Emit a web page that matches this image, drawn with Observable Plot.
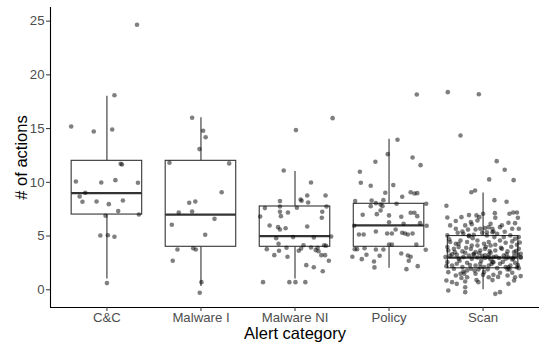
<!DOCTYPE html>
<html>
<head>
<meta charset="utf-8">
<script src="https://cdn.jsdelivr.net/npm/d3@7"></script>
<script src="https://cdn.jsdelivr.net/npm/@observablehq/plot@0.6"></script>
<style>
  html, body { margin: 0; padding: 0; background: white; }
  #chart { width: 539px; height: 343px; }
</style>
</head>
<body>
<div id="chart"></div>
<script>
// Categories and box statistics
const categories = ["C&C", "Malware I", "Malware NI", "Policy", "Scan"];
const boxQ1       = [7, 4, 4, 4, 2];
const boxMedian   = [9, 7, 5, 6, 3];
const boxQ3       = [12, 12, 7.75, 8, 5];
const whiskerLow  = [1, 0.3, 1, 2, 0];
const whiskerHigh = [18, 16, 11, 14, 9];
const yTicks = [0, 5, 10, 15, 20, 25];

// Jittered observations: [horizontal jitter (category units), # of actions]
const ccPoints = [
  [0.32,24.66],[0.08,18.11],[-0.38,15.2],[-0.14,14.73],[0.056,14.92],[0.146,11.73],[0.16,11.66],
  [-0.33,10.08],[-0.06,9.99],[0.09,10.2],[0.33,9.96],[-0.23,9.03],[-0.29,8.68],[-0.26,8.19],
  [-0.11,8.22],[0.02,7.97],[0.17,8.31],[0.12,7.32],[-0.015,6.89],[0.34,7.01],[-0.07,5.05],
  [0.01,5.08],[0.08,4.93],[0,0.62]
];
const malwareIPoints = [
  [-0.094,16.01],[0.023,14.8],[0.05,14.2],[-0.016,13.09],[-0.335,11.82],[0.30,11.76],[0.22,9.08],
  [-0.125,8.1],[-0.06,8.22],[-0.236,7.19],[-0.094,7.29],[0.144,6.6],[-0.31,6.05],[0.045,5.12],
  [-0.25,3.75],[-0.083,3.87],[-0.055,3.75],[-0.3,2.7],[0.005,0.71],[-0.013,-0.28]
];
const malwareNIPoints = [
  [0.40,15.97],[0.01,14.86],[-0.12,11.1],[0.17,9.99],[0.13,8.78],[0.325,8.78],[-0.16,8.25],
  [0.06,8.4],[0.07,8.28],[0.14,8.12],[-0.32,7.6],[-0.16,7.75],[0.02,7.63],[0.335,7.75],
  [-0.16,7.26],[-0.075,7.19],[0.29,7.26],[-0.37,6.82],[-0.15,6.85],[0.285,6.7],[-0.27,5.98],
  [-0.18,5.83],[-0.16,5.61],[-0.10,5.73],[0.13,5.89],[-0.2,4.8],[-0.02,4.9],[0.2,4.87],
  [0.385,4.96],[-0.175,4.28],[-0.3,3.78],[-0.09,3.91],[0.09,4.15],[0.065,3.84],[0.17,3.94],
  [0.24,3.91],[0.31,4.15],[0.33,4.1],[-0.17,3.63],[0.04,3.63],[0.22,3.69],[-0.22,3.22],
  [0.25,3.59],[0.28,3.22],[0.32,3.22],[-0.08,3.07],[0.36,2.7],[0.12,2.29],[0.2,2.1],
  [0.295,1.73],[-0.34,0.71],[-0.06,0.71],[0.005,0.71],[0.11,0.71]
];
const policyPoints = [
  [0.295,18.18],[0.09,13.96],[-0.014,12.62],[0.25,12.31],[-0.145,11.91],[0.335,11.6],[-0.31,10.98],
  [-0.3,9.96],[-0.195,9.68],[0.045,9.74],[-0.04,9.03],[0.23,9.08],[0.27,8.96],[0.30,8.99],
  [0.14,8.66],[-0.36,8.25],[-0.185,8.31],[-0.06,8.34],[0.395,8.0],[-0.195,7.78],[-0.14,8.06],
  [-0.09,7.94],[-0.07,7.78],[0.08,8.0],[-0.09,7.38],[-0.28,6.98],[-0.13,7.04],[0.0,6.92],
  [0.13,6.79],[0.23,7.17],[0.27,7.17],[0.30,6.85],[0.0,6.29],[0.155,6.14],[0.33,6.2],
  [0.40,5.96],[-0.37,5.96],[-0.14,5.43],[0.07,5.61],[-0.32,5.15],[-0.27,5.15],[-0.02,5.24],
  [0.03,5.24],[0.14,5.3],[0.17,5.24],[0.2,5.15],[0.25,5.24],[0.0,4.22],[0.03,4.22],
  [0.29,4.22],[-0.365,3.78],[-0.34,3.78],[-0.26,3.87],[-0.14,3.75],[-0.06,3.75],[0.39,3.72],
  [-0.39,3.07],[-0.29,2.85],[-0.24,3.26],[-0.1,3.16],[0.13,3.38],[0.2,3.19],[0.23,3.07],
  [-0.16,2.63],[0.21,2.7],[-0.155,2.08],[0.305,2.2],[0.185,1.92]
];
const scanPoints = [
  [-0.375,18.39],[-0.045,18.2],[-0.24,14.36],[0.145,11.97],[0.23,11.17],[0.065,10.27],[0.325,10.2],
  [-0.125,9.08],[-0.085,9.24],[0.12,8.34],[0.25,8.19],[-0.39,7.82],
  [-0.38,6.73],[-0.23,6.76],[-0.15,6.95],[-0.07,6.92],[-0.04,6.76],[0.0,7.07],[0.125,7.13],
  [0.13,6.7],[0.28,7.07],[0.32,7.19],[0.36,7.19],[0.37,6.7],
  [-0.35,5.99],[-0.29,5.68],[-0.22,5.43],[-0.19,5.99],[-0.08,5.62],[-0.03,5.68],[0.02,5.74],
  [0.06,5.83],[0.10,5.68],[0.11,5.43],[0.18,5.83],[0.27,6.24],[0.31,5.68],[0.38,5.68],
  [-0.13,6.30],[-0.06,6.45],[0.08,6.14],
  [-0.38,5.06],[-0.21,5.21],[-0.15,4.99],[-0.10,5.12],[-0.01,5.31],[0.04,5.06],[0.15,5.21],
  [0.22,4.90],[0.29,5.06],[0.34,4.75],[0.38,4.90],
  [-0.35,4.44],[-0.29,4.28],[-0.24,4.59],[-0.17,4.44],[-0.12,4.12],[-0.06,4.59],[0.01,4.28],
  [0.06,4.44],[0.13,4.19],[0.18,4.59],[0.24,4.37],[0.31,4.50],[0.36,4.19],[-0.38,3.97],
  [-0.26,3.97],[0.08,4.12],
  [-0.37,3.66],[-0.31,3.81],[-0.22,3.57],[-0.19,3.44],[-0.13,3.81],[-0.08,3.50],[-0.03,3.66],
  [0.02,3.81],[0.08,3.44],[0.13,3.66],[0.20,3.81],[0.26,3.57],[0.33,3.50],[0.38,3.81],[0.40,3.35],
  [-0.40,3.04],[-0.35,3.19],[-0.28,3.26],[-0.21,3.04],[-0.15,3.19],[-0.10,3.26],[-0.06,3.01],
  [-0.01,3.13],[0.02,2.95],[0.06,3.26],[0.11,3.04],[0.17,2.95],[0.22,3.19],[0.27,3.01],
  [0.33,3.13],[0.37,3.26],[0.40,3.01],[-0.26,2.88],[-0.12,2.88],[0.08,2.82],[0.31,2.82],
  [-0.38,2.57],[-0.33,2.26],[-0.28,2.42],[-0.22,2.11],[-0.17,2.51],[-0.13,1.95],[-0.08,2.26],
  [-0.03,2.42],[0.01,2.11],[0.06,2.26],[0.10,2.57],[0.15,2.01],[0.18,2.42],[0.24,2.11],
  [0.29,2.26],[0.34,2.51],[0.38,2.01],[-0.31,1.95],[-0.05,1.89],[0.26,1.89],
  [-0.37,1.64],[-0.29,1.33],[-0.24,1.49],[-0.17,1.17],[-0.08,1.49],[0.01,1.64],[0.06,1.17],
  [0.11,1.39],[0.18,1.58],[0.26,1.33],[0.31,1.58],[0.34,1.17],[0.40,1.27],[-0.21,1.70],
  [-0.39,0.86],[-0.33,0.71],[-0.28,0.55],[-0.19,0.77],[-0.05,0.71],[0.33,0.86],[0.27,0.55],
  [-0.19,0.24],[-0.19,-0.22],[-0.37,-0.07],[0.13,-0.38],[0.18,-0.22],
  [-0.15,5.05],[-0.06,4.12],[0.04,5.36],[0.10,5.36],[-0.10,3.35],[0.06,3.03],[0.24,2.89],
  [0.27,2.10],[0.36,2.10],[0.40,3.03],[-0.17,1.80],[-0.03,2.10],[0.11,2.57],[-0.26,4.28],
  [-0.36,4.7],[-0.30,3.5],[-0.25,2.7],[-0.20,1.5],[-0.18,3.9],[-0.14,2.3],[-0.11,4.8],
  [-0.09,1.8],[-0.04,3.4],[-0.02,2.7],[0.03,4.0],[0.05,1.9],[0.07,3.6],[0.09,2.4],[0.12,4.9],
  [0.14,3.1],[0.16,1.2],[0.19,3.9],[0.21,2.6],[0.23,5.4],[0.25,3.3],[0.28,1.9],[0.30,4.0],
  [0.32,2.9],[0.35,3.6],[0.37,2.3],[0.39,4.4],[-0.39,2.2],[-0.33,3.3],[-0.27,5.3],[-0.23,1.1],
  [-0.16,5.6],[-0.07,0.9],[0.0,1.4],[0.10,0.9],[0.20,6.0],[-0.12,6.1],[0.34,6.2],[-0.29,6.4],
  [0.02,3.2]
];

const pointSets = [ccPoints, malwareIPoints, malwareNIPoints, policyPoints, scanPoints];
const xDomain = [-0.6, categories.length - 0.4];
const yDomain = [-1.65, 26.27];
const boxHalf = 0.375;

const boxes = categories.map((c, i) => ({
  i, c, q1: boxQ1[i], med: boxMedian[i], q3: boxQ3[i], lo: whiskerLow[i], hi: whiskerHigh[i]
}));
const points = pointSets.flatMap((set, i) => set.map(([j, v]) => ({i, j, v})));

const font = "'Liberation Sans', Arial, Helvetica, sans-serif";

const chart = Plot.plot({
  width: 539,
  height: 343,
  marginLeft: 50,
  marginRight: 0,
  marginTop: 7,
  marginBottom: 36,
  style: {fontFamily: font, background: "white", overflow: "visible"},
  x: {domain: xDomain},
  y: {domain: yDomain},
  marks: [
    // whiskers
    Plot.ruleX(boxes, {x: "i", y1: "lo", y2: "q1", stroke: "#333333", strokeWidth: 1.1}),
    Plot.ruleX(boxes, {x: "i", y1: "q3", y2: "hi", stroke: "#333333", strokeWidth: 1.1}),
    // boxes
    Plot.rect(boxes, {x1: d => d.i - boxHalf, x2: d => d.i + boxHalf, y1: "q1", y2: "q3",
      fill: "white", stroke: "#333333", strokeWidth: 1.1}),
    // medians
    Plot.ruleY(boxes, {y: "med", x1: d => d.i - boxHalf, x2: d => d.i + boxHalf,
      stroke: "#333333", strokeWidth: 2.2}),
    // jittered points
    Plot.dot(points, {x: d => d.i + d.j, y: "v", r: 2.3, fill: "black", fillOpacity: 0.5, stroke: "none"}),
    // axis lines
    Plot.ruleX([xDomain[0]], {stroke: "black", strokeWidth: 1.1}),
    Plot.ruleY([yDomain[0]], {stroke: "black", strokeWidth: 1.1}),
    // axes
    Plot.axisX({ticks: categories.map((c, i) => i), tickFormat: i => categories[i],
      tickSize: 4, tickPadding: 1, fontSize: 13.2, stroke: "#333333", fill: "#4d4d4d", label: null}),
    Plot.axisY({ticks: yTicks, tickSize: 4, tickPadding: 2, fontSize: 13.2,
      stroke: "#333333", fill: "#4d4d4d", label: null}),
    // axis titles
    Plot.text(["Alert category"], {frameAnchor: "bottom", lineAnchor: "middle", textAnchor: "middle",
      dy: 26.5, fontSize: 16.5, fill: "black"}),
    Plot.text(["# of actions"], {frameAnchor: "left", lineAnchor: "middle", textAnchor: "middle",
      dx: -28.5, rotate: -90, fontSize: 16.5, fill: "black"})
  ]
});
document.getElementById("chart").appendChild(chart);
</script>
</body>
</html>
